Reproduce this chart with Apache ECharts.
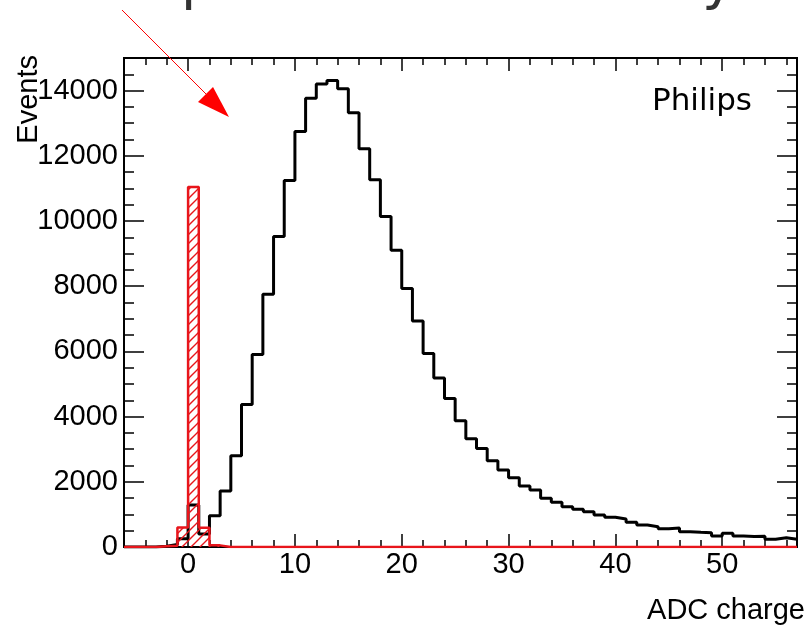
<!DOCTYPE html>
<html>
<head>
<meta charset="utf-8">
<script src="https://cdn.jsdelivr.net/npm/echarts@6/dist/echarts.min.js"></script>
<style>
  html, body { margin: 0; padding: 0; background: #fff; }
  #chart { width: 807px; height: 632px; }
</style>
</head>
<body>
<div id="chart"></div>
<script>
// bin left edges (width 1), x range -6 .. 57
const binEdges = [-6, -5, -4, -3, -2, -1, 0, 1, 2, 3, 4, 5, 6, 7, 8, 9, 10, 11, 12, 13, 14, 15, 16, 17, 18, 19, 20,
  21, 22, 23, 24, 25, 26, 27, 28, 29, 30, 31, 32, 33, 34, 35, 36, 37, 38, 39, 40,
  41, 42, 43, 44, 45, 46, 47, 48, 49, 50, 51, 52, 53, 54, 55, 56];
const xEnd = 57;

// black histogram: signal events
const signalCounts = [0, 0, 0, 20, 80, 250, 1290, 400, 960, 1716, 2797, 4372, 5904, 7751, 9528, 11244, 12745,
  13765, 14206, 14308, 14053, 13318, 12215, 11265, 10141, 9099, 7926,
  6934, 5934, 5187, 4555, 3870, 3318, 3024, 2644, 2359, 2124,
  1869, 1746, 1492, 1369, 1235, 1155, 1082, 980, 910, 858,
  757, 674, 622, 560, 580, 470, 450, 440, 337, 420,
  337, 320, 330, 236, 285, 236];

// red hatched histogram: pedestal
const pedestalCounts = [0, 0, 0, 20, 40, 600, 11040, 590, 50, 0, 0, 0, 0, 0, 0, 0, 0,
  0, 0, 0, 0, 0, 0, 0, 0, 0, 0,
  0, 0, 0, 0, 0, 0, 0, 0, 0, 0,
  0, 0, 0, 0, 0, 0, 0, 0, 0, 0,
  0, 0, 0, 0, 0, 0, 0, 0, 0, 0,
  0, 0, 0, 0, 0, 0];

const xMajorTicks = [0, 10, 20, 30, 40, 50];
const xMinorTicks = [-6, -4, -2, 2, 4, 6, 8, 12, 14, 16, 18, 22, 24, 26, 28, 32, 34, 36, 38, 42, 44, 46, 48, 52, 54, 56];
const yMajorTicks = [0, 2000, 4000, 6000, 8000, 10000, 12000, 14000];
const yMinorTicks = [500, 1000, 1500, 2500, 3000, 3500, 4500, 5000, 5500, 6500, 7000, 7500, 8500, 9000, 9500,
  10500, 11000, 11500, 12500, 13000, 13500, 14500];

const toSteps = (counts) =>
  binEdges.map((x, i) => [x, counts[i]]).concat([[xEnd, counts[counts.length - 1]]]);

const RED = '#e8151b';
const FONT = 'Liberation Sans, Arial, sans-serif';

// hatch pattern for the red histogram
function hatch() {
  const c = document.createElement('canvas');
  c.width = 9; c.height = 9;
  const g = c.getContext('2d');
  g.strokeStyle = RED;
  g.lineWidth = 1.4;
  g.beginPath();
  g.moveTo(-1, 10); g.lineTo(10, -1);
  g.moveTo(-1, 1); g.lineTo(1, -1);
  g.moveTo(8, 10); g.lineTo(10, 8);
  g.stroke();
  return c;
}

function xAx(pos, ticks, len, labels) {
  return {
    type: 'value', position: pos, min: -6, max: xEnd,
    axisLine: { show: true, onZero: false, lineStyle: { color: '#000', width: 2 } },
    axisTick: { show: true, inside: true, length: len, customValues: ticks, lineStyle: { color: '#000', width: 1.5 } },
    axisLabel: labels ? {
      show: true, customValues: ticks, margin: 3, color: '#000', fontSize: 29, fontFamily: FONT,
      formatter: (v) => String(v)
    } : { show: false },
    splitLine: { show: false }
  };
}
function yAx(pos, ticks, len, labels) {
  return {
    type: 'value', position: pos, min: 0, max: 15000,
    axisLine: { show: true, onZero: false, lineStyle: { color: '#000', width: 2 } },
    axisTick: { show: true, inside: true, length: len, customValues: ticks, lineStyle: { color: '#000', width: 1.5 } },
    axisLabel: labels ? {
      show: true, customValues: ticks, margin: 6, color: '#000', fontSize: 29, fontFamily: FONT,
      formatter: (v) => String(v)
    } : { show: false },
    splitLine: { show: false }
  };
}

const chart = echarts.init(document.getElementById('chart'), null, { renderer: 'canvas' });
chart.setOption({
  animation: false,
  backgroundColor: '#fff',
  grid: { left: 124, right: 10, top: 58, bottom: 85 },
  xAxis: [
    xAx('bottom', xMajorTicks, 13, true),
    xAx('bottom', xMinorTicks, 7, false),
    xAx('top', xMajorTicks, 13, false),
    xAx('top', xMinorTicks, 7, false)
  ],
  yAxis: [
    yAx('left', yMajorTicks, 20, true),
    yAx('left', yMinorTicks, 10, false),
    yAx('right', yMajorTicks, 20, false),
    yAx('right', yMinorTicks, 10, false)
  ],
  series: [
    {
      name: 'signal',
      type: 'line',
      step: 'end',
      showSymbol: false,
      data: toSteps(signalCounts),
      lineStyle: { color: '#000', width: 3 },
      z: 3
    },
    {
      name: 'pedestal',
      type: 'line',
      step: 'end',
      showSymbol: false,
      data: toSteps(pedestalCounts),
      lineStyle: { color: RED, width: 2.5 },
      areaStyle: { color: { image: hatch(), repeat: 'repeat' }, opacity: 1, origin: 'start' },
      z: 4
    }
  ],
  graphic: [
    // partly visible slide title above the canvas
    { type: 'text', x: 181, y: -17, style: { text: 'p', font: '56px "DejaVu Sans"', fill: '#333', verticalAlign: 'middle' } },
    { type: 'text', x: 702, y: -17, style: { text: 'y', font: '56px "DejaVu Sans"', fill: '#333', verticalAlign: 'middle' } },
    // red annotation arrow
    { type: 'line', shape: { x1: 122, y1: 10, x2: 206, y2: 94 }, style: { stroke: '#ff0000', lineWidth: 1 }, z: 10 },
    { type: 'polygon', shape: { points: [[198, 102], [213, 87], [229, 117]] }, style: { fill: '#ff0000' }, z: 10 },
    { type: 'text', left: 652, top: 86, style: { text: 'Philips', font: '31px "DejaVu Sans"', fill: '#000' } },
    { type: 'text', right: 2, top: 596, style: { text: 'ADC charge', font: '29px "Liberation Sans"', fill: '#000' } },
    { type: 'text', left: 14, top: 55, rotation: Math.PI / 2, style: { text: 'Events', font: '29px "Liberation Sans"', fill: '#000' } }
  ]
});
</script>
</body>
</html>
